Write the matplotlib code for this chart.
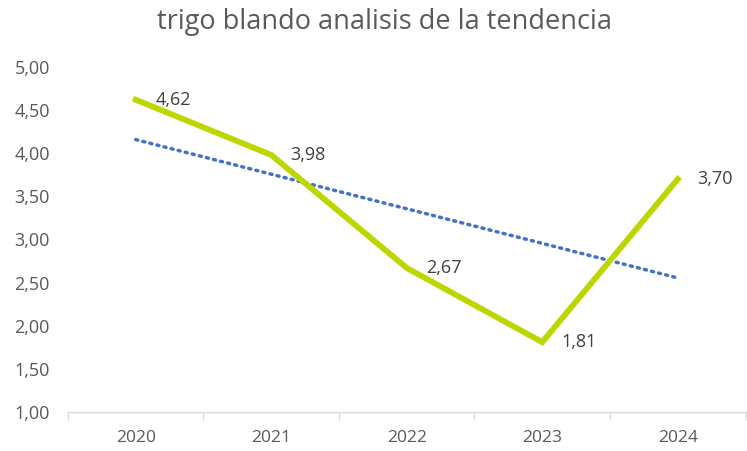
import numpy as np
import matplotlib.pyplot as plt

years = ["2020", "2021", "2022", "2023", "2024"]
values = [4.62, 3.98, 2.67, 1.81, 3.70]
y_ticks = [1.0, 1.5, 2.0, 2.5, 3.0, 3.5, 4.0, 4.5, 5.0]

plt.rcParams["font.family"] = ["Open Sans", "DejaVu Sans"]

fig = plt.figure(figsize=(7.47, 4.51), dpi=100)
ax = fig.add_axes([0.091, 0.0865, 0.907, 0.765])

x = np.arange(len(years))

# trend line (linear fit)
k, b = np.polyfit(x, values, 1)
ax.plot(x, k * x + b, color="#4472C4", linewidth=2.5, linestyle=(0, (0.6, 1.5)),
        dash_capstyle="round")

ax.plot(x, values, color="#BED600", linewidth=4.2, solid_joinstyle="miter")

for xi, v in zip(x, values):
    ax.annotate(f"{v:.2f}".replace(".", ","), (xi, v), xytext=(14, 0),
                textcoords="offset points", ha="left", va="center",
                fontsize=13, color="#404040")

ax.set_xlim(-0.5, len(years) - 0.5)
ax.set_ylim(1, 5)
ax.set_yticks(y_ticks)
ax.set_yticklabels([f"{t:.2f}".replace(".", ",") for t in y_ticks])
ax.set_xticks(x)
ax.set_xticklabels(years)
ax.set_xticks(np.arange(-0.5, len(years), 1), minor=True)

ax.tick_params(axis="y", length=0, pad=13, labelsize=13, labelcolor="#595959")
ax.tick_params(axis="x", which="major", length=0, pad=13, labelsize=12.5,
               labelcolor="#595959")
ax.tick_params(axis="x", which="minor", length=6, color="#D9D9D9", width=1)

for s in ["top", "right", "left"]:
    ax.spines[s].set_visible(False)
ax.spines["bottom"].set_color("#D9D9D9")
ax.spines["bottom"].set_linewidth(1)

fig.text(0.515, 0.952, "trigo blando analisis de la tendencia", ha="center",
         va="center", fontsize=19.5, color="#595959")

fig.savefig("out.png", dpi=100)
